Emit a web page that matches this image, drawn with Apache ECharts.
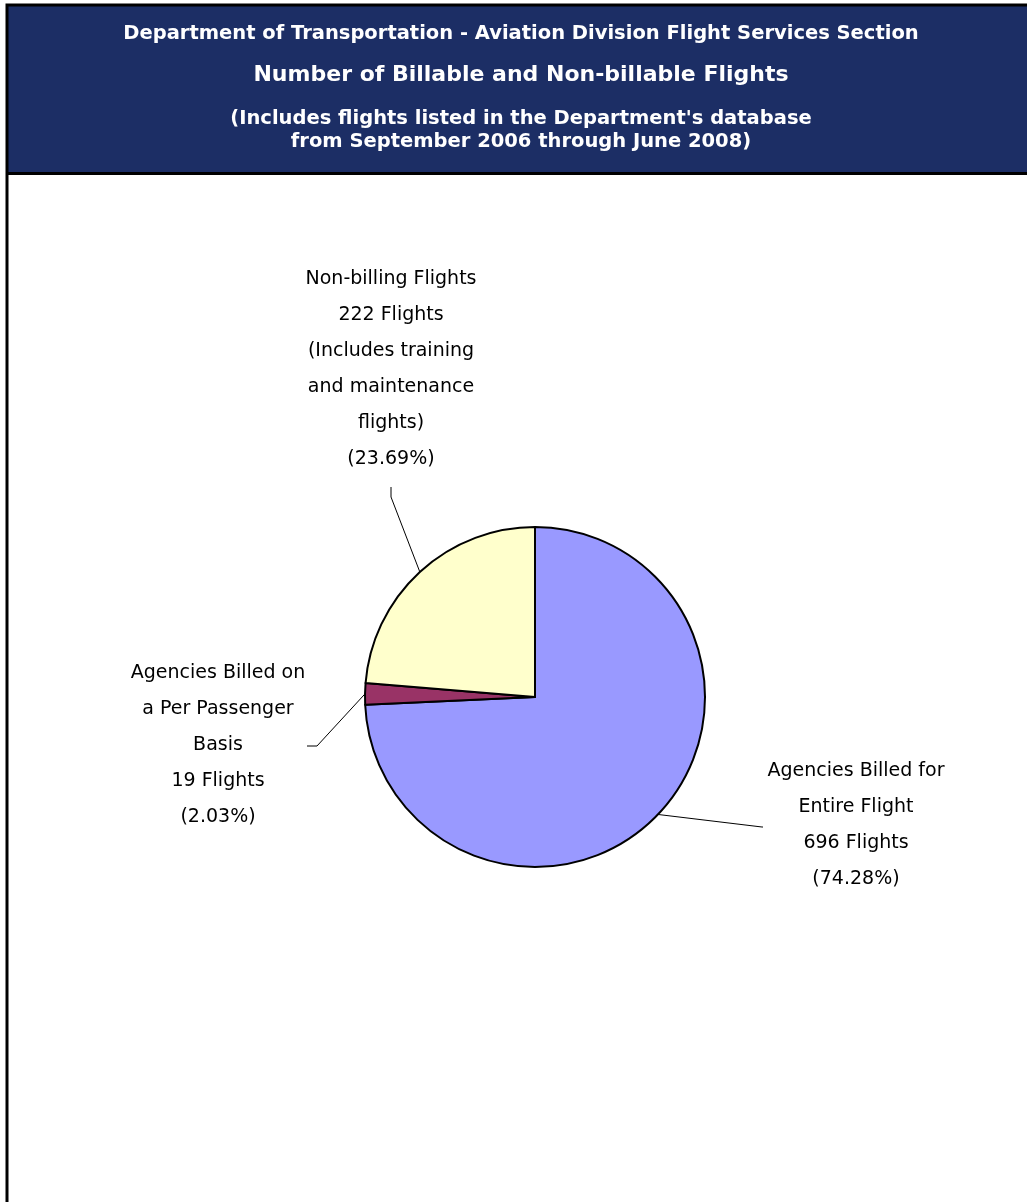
<!DOCTYPE html>
<html>
<head>
<meta charset="utf-8">
<script src="https://cdn.jsdelivr.net/npm/echarts@6/dist/echarts.min.js"></script>
<style>
html,body{margin:0;padding:0;background:#fff;}
#main{width:1027px;height:1202px;}
</style>
</head>
<body>
<div id="main"></div>
<script>
// ---- data ----
var categories = [
  "Agencies Billed for\nEntire Flight",
  "Agencies Billed on\na Per Passenger\nBasis",
  "Non-billing Flights"
];
var notes = ["", "", "(Includes training\nand maintenance\nflights)"];
var flights = [696, 19, 222];
var colors = ["#9999FF", "#993366", "#FFFFCC"];
var titleLines = [
  "Department of Transportation - Aviation Division Flight Services Section",
  "Number of Billable and Non-billable Flights",
  "(Includes flights listed in the Department's database\nfrom September 2006 through June 2008)"
];
// label anchor placement (layout only)
var labelPos = [
  {x: 856, y: 825, line: [[762, 827], [763, 827]]},
  {x: 218, y: 745, line: [[317, 746], [307, 746]]},
  {x: 391, y: 369, line: [[391, 497], [391, 487]]}
];

var total = flights.reduce(function(a, b){ return a + b; }, 0);
var seriesData = flights.map(function(v, i){
  return {value: v, name: categories[i], itemStyle: {color: colors[i]}};
});

var chart = echarts.init(document.getElementById('main'), null, {renderer: 'canvas'});
var font = "'DejaVu Sans', Tahoma, sans-serif";
var tfont = "'DejaVu Sans', Tahoma, sans-serif";
chart.setOption({
  animation: false,
  backgroundColor: '#ffffff',
  graphic: [
    {type: 'rect', shape: {x: 8, y: 6, width: 1030, height: 167}, style: {fill: '#1C2E65'}, z: 0},
    {type: 'rect', shape: {x: 7, y: 5, width: 1040, height: 1220}, style: {fill: null, stroke: '#000', lineWidth: 3}, z: 1},
    {type: 'line', shape: {x1: 7, y1: 173.5, x2: 1030, y2: 173.5}, style: {stroke: '#000', lineWidth: 3}, z: 1}
  ],
  title: [
    {text: titleLines[0], left: 516, top: 19, textAlign: 'center',
     textStyle: {color: '#fff', fontFamily: tfont, fontWeight: 'bold', fontSize: 19.5}},
    {text: titleLines[1], left: 516, top: 59, textAlign: 'center',
     textStyle: {color: '#fff', fontFamily: tfont, fontWeight: 'bold', fontSize: 22}},
    {text: titleLines[2], left: 516, top: 102, textAlign: 'center',
     textStyle: {color: '#fff', fontFamily: tfont, fontWeight: 'bold', fontSize: 19.5, lineHeight: 23}}
  ],
  series: [{
    type: 'pie',
    center: [535, 697],
    radius: 170,
    startAngle: 90,
    clockwise: true,
    avoidLabelOverlap: false,
    data: seriesData,
    itemStyle: {borderColor: '#000', borderWidth: 2},
    emphasis: {disabled: true},
    label: {
      show: true,
      position: 'outside',
      color: '#000',
      fontFamily: font,
      fontSize: 19,
      lineHeight: 36,
      align: 'center',
      formatter: function(p){
        var i = p.dataIndex;
        var parts = [categories[i], flights[i] + ' Flights'];
        if (notes[i]) parts.push(notes[i]);
        parts.push('(' + (flights[i] / total * 100).toFixed(2) + '%)');
        return parts.join('\n');
      }
    },
    labelLine: {show: true, lineStyle: {color: '#000', width: 1}},
    labelLayout: function(params){
      var i = params.dataIndex;
      var lp = labelPos[i];
      var start = params.labelLinePoints ? params.labelLinePoints[0] : lp.line[0];
      return {
        x: lp.x, y: lp.y, align: 'center', verticalAlign: 'middle',
        labelLinePoints: [start, lp.line[0], lp.line[1]]
      };
    }
  }]
});
</script>
</body>
</html>
